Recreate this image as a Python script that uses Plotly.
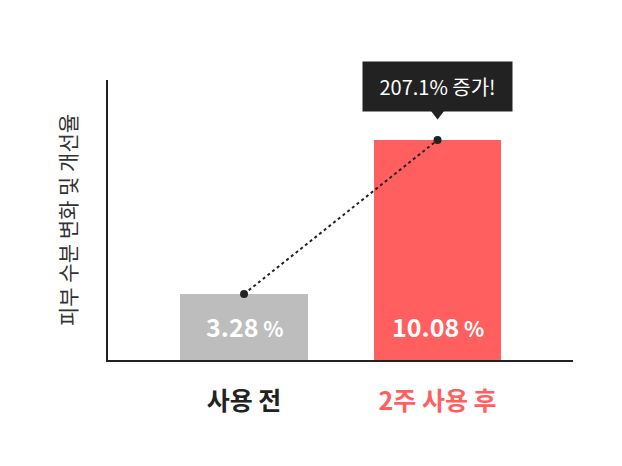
import plotly.graph_objects as go

# 데이터
categories = ["사용 전", "2주 사용 후"]
values = [3.28, 10.08]
bar_colors = ["#BDBDBD", "#FF5F5F"]
label_colors = ["#222222", "#FF5F5F"]
increase_text = "207.1% 증가!"
y_title = "피부 수분 변화 및 개선율"

FONT = "Noto Sans CJK KR"
x_pos = list(range(len(categories)))

fig = go.Figure()

fig.add_trace(go.Bar(
    x=x_pos, y=values, width=0.66,
    marker=dict(color=bar_colors, line=dict(width=0)),
    hoverinfo="skip",
))

# 막대 상단을 잇는 점선
fig.add_trace(go.Scatter(
    x=x_pos, y=values, mode="lines+markers",
    line=dict(color="#222222", width=2, dash="dot"),
    marker=dict(color="#222222", size=8),
    hoverinfo="skip",
))

# 말풍선 꼬리
fig.add_trace(go.Scatter(
    x=[x_pos[1]], y=[11.25], mode="markers",
    marker=dict(symbol="triangle-down", size=12, color="#222222"),
    hoverinfo="skip",
))

# 막대 안 값 라벨
for xi, v in zip(x_pos, values):
    fig.add_annotation(
        x=xi, y=1.87, xref="x", yref="y", showarrow=False,
        xanchor="center", yanchor="middle",
        text=f"{v:.2f}<span style='font-size:21px'> %</span>",
        font=dict(family=FONT, size=25, color="white", weight=600),
    )

# 증가율 말풍선
fig.add_annotation(
    x=x_pos[1], y=0.977, xref="x", yref="paper", showarrow=False,
    xanchor="center", yanchor="middle",
    text=increase_text, bgcolor="#222222", borderpad=12,
    width=125, height=25,
    font=dict(family=FONT, size=20, color="white"),
)

ticktext = [f"<span style='color:{c}'>{t}</span>" for t, c in zip(categories, label_colors)]

fig.update_layout(
    width=622, height=466,
    margin=dict(l=100, r=57, t=72, b=114),
    plot_bgcolor="white", paper_bgcolor="white",
    showlegend=False,
    bargap=0,
    font=dict(family=FONT, color="#222222"),
    xaxis=dict(
        range=[-0.703, 1.70], tickvals=x_pos, ticktext=ticktext,
        showline=True, linecolor="#222222", linewidth=2,
        showgrid=False, zeroline=False, ticks="",
        tickfont=dict(family=FONT, size=25, weight=600), ticklabelstandoff=18,
    ),
    yaxis=dict(
        range=[0.366, 12.73], showticklabels=False,
        showline=True, linecolor="#222222", linewidth=2,
        showgrid=False, zeroline=False, ticks="",
        title=dict(text=y_title, font=dict(family=FONT, size=21, color="#333333"), standoff=24),
    ),
)

fig.write_html("out.html")
